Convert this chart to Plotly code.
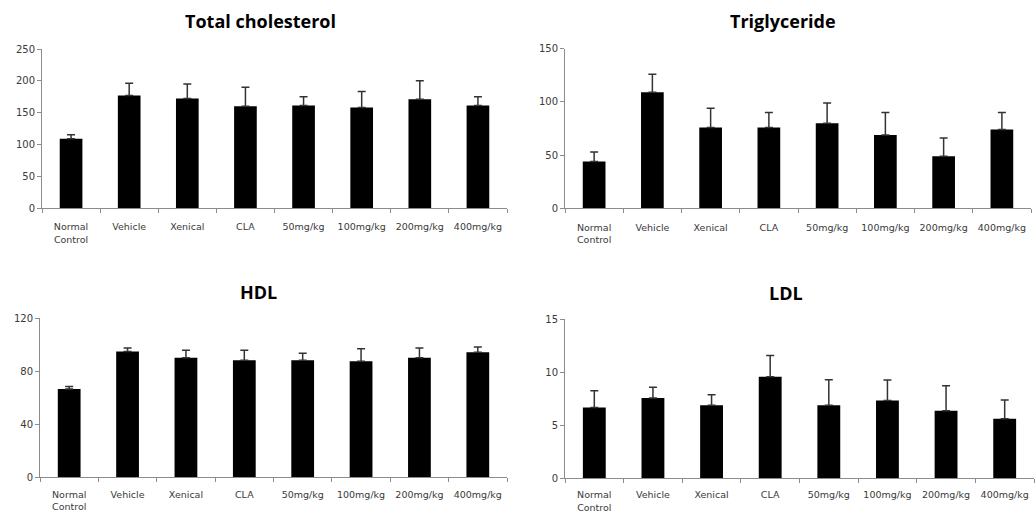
import plotly.graph_objects as go

categories = ["Normal<br>Control", "Vehicle", "Xenical", "CLA", "50mg/kg", "100mg/kg", "200mg/kg", "400mg/kg"]

tc_values = [109, 177, 172, 160, 161, 158, 171, 161]
tc_errors = [6, 19, 23, 30, 14, 25, 29, 14]

tg_values = [44, 109, 76, 76, 80, 69, 49, 74]
tg_errors = [9, 17, 18, 14, 19, 21, 17, 16]

hdl_values = [66.7, 95, 90.3, 88.3, 88.3, 87.5, 90.3, 94.3]
hdl_errors = [1.8, 2.5, 5.5, 7.5, 5.3, 9.6, 7.3, 4.0]

ldl_values = [6.64, 7.55, 6.86, 9.56, 6.86, 7.3, 6.35, 5.6]
ldl_errors = [1.6, 1.0, 1.0, 2.0, 2.4, 1.95, 2.36, 1.76]

titles = ["Total cholesterol", "Triglyceride", "HDL", "LDL"]
y_ranges = [[0, 250], [0, 150], [0, 120], [0, 15]]
y_dticks = [50, 50, 40, 5]

W, H = 1036, 513
# pixel boxes: (x0, x1, ytop, ybottom)
boxes = [(42, 507, 49, 208), (565, 1031, 48.7, 208.3), (40, 507, 318.3, 477.3), (565, 1034, 319, 478)]
title_pos = [(260, 21), (783, 21), (258, 292), (786, 293)]
standoffs = [10, 10, 8, 8]

series = [(tc_values, tc_errors), (tg_values, tg_errors), (hdl_values, hdl_errors), (ldl_values, ldl_errors)]

fig = go.Figure()
axis_color = "#8c8c8c"
tick_font = dict(family="DejaVu Sans", size=10, color="#3a3a3a")
cat_font = dict(family="DejaVu Sans", size=9.5, color="#3a3a3a")

for i, ((vals, errs), box) in enumerate(zip(series, boxes)):
    n = "" if i == 0 else str(i + 1)
    fig.add_trace(go.Bar(
        x=categories, y=vals,
        xaxis="x" + n, yaxis="y" + n,
        marker=dict(color="black", line=dict(width=0)),
        width=0.39,
        error_y=dict(type="data", symmetric=False, array=errs,
                     arrayminus=[0] * len(errs), color="#333333",
                     thickness=1.5, width=4),
        showlegend=False,
    ))
    x0, x1, yt, yb = box
    fig.layout["xaxis" + n] = dict(
        domain=[x0 / W, x1 / W], anchor="y" + n,
        range=[-0.5, 7.5], showline=True, linecolor=axis_color, linewidth=1,
        ticks="outside", tickson="boundaries", ticklen=4, tickcolor=axis_color,
        tickfont=cat_font, tickangle=0, showgrid=False, zeroline=False,
        ticklabelstandoff=standoffs[i], fixedrange=True, automargin=False,
    )
    fig.layout["yaxis" + n] = dict(
        domain=[1 - yb / H, 1 - yt / H], anchor="x" + n,
        range=y_ranges[i], dtick=y_dticks[i], showline=True, linecolor=axis_color,
        linewidth=1, ticks="outside", ticklen=4, tickcolor=axis_color,
        tickfont=tick_font, showgrid=False, zeroline=False, fixedrange=True,
        automargin=False,
    )
    tx, ty = title_pos[i]
    fig.add_annotation(
        x=tx / W, y=1 - ty / H, xref="paper", yref="paper",
        text="<b>" + titles[i] + "</b>", showarrow=False,
        font=dict(family="Open Sans", size=18, color="black"),
        xanchor="center", yanchor="middle",
    )

fig.update_layout(
    width=W, height=H, margin=dict(l=0, r=0, t=0, b=0, autoexpand=False),
    plot_bgcolor="white", paper_bgcolor="white", bargap=0.6,
)

fig.write_html("out.html", config={"displayModeBar": False},
               post_script="document.body.style.margin='0';")
